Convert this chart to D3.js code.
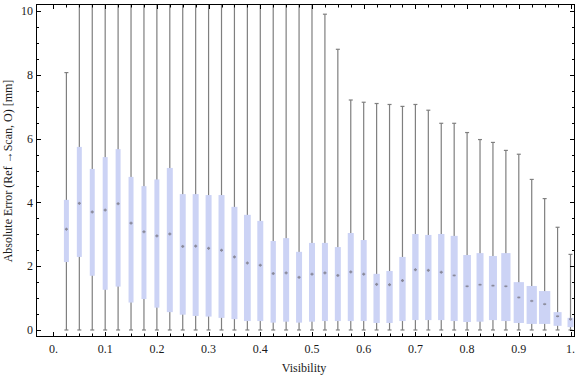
<!DOCTYPE html>
<html>
<head>
<meta charset="utf-8">
<script src="https://cdn.jsdelivr.net/npm/d3@7"></script>
<style>
  body { margin: 0; background: #fff; }
  svg { display: block; }
  text { font-family: "Liberation Serif", "DejaVu Serif", serif; }
</style>
</head>
<body>
<svg id="chart" width="576" height="377"></svg>
<script>
// Visibility bins (box centres)
const visibility = [0.025, 0.05, 0.075, 0.1, 0.125, 0.15, 0.175, 0.2, 0.225, 0.25,
                    0.275, 0.3, 0.325, 0.35, 0.375, 0.4, 0.425, 0.45, 0.475, 0.5,
                    0.525, 0.55, 0.575, 0.6, 0.625, 0.65, 0.675, 0.7, 0.725, 0.75,
                    0.775, 0.8, 0.825, 0.85, 0.875, 0.9, 0.925, 0.95, 0.975, 1.0];

// Box statistics (mm)
const maxVal = [8.07, 11.5, 11.5, 11.5, 11.5, 11.5, 11.5, 11.5, 11.5, 11.5,
                11.5, 11.5, 11.5, 11.5, 11.5, 11.5, 11.5, 11.5, 11.5, 11.5,
                9.9, 8.8, 7.21, 7.14, 7.1, 7.07, 7.01, 7.07, 6.89, 6.48,
                6.48, 6.19, 5.97, 5.88, 5.63, 5.51, 4.72, 4.12, 3.22, 2.37];
const q3 = [4.08, 5.74, 5.05, 5.42, 5.67, 4.80, 4.51, 4.72, 5.08, 4.26,
            4.26, 4.23, 4.23, 3.86, 3.61, 3.42, 2.79, 2.88, 2.45, 2.73,
            2.73, 2.60, 3.04, 2.82, 1.76, 1.85, 2.29, 3.01, 2.98, 3.01,
            2.95, 2.35, 2.41, 2.32, 2.41, 1.50, 1.38, 1.22, 0.56, 0.38];
const median = [3.16, 3.97, 3.70, 3.76, 3.96, 3.35, 3.08, 2.95, 3.01, 2.62,
                2.63, 2.56, 2.50, 2.29, 2.10, 2.03, 1.77, 1.79, 1.65, 1.75,
                1.79, 1.71, 1.82, 1.75, 1.43, 1.42, 1.55, 1.89, 1.87, 1.81,
                1.71, 1.37, 1.42, 1.39, 1.37, 1.02, 0.91, 0.81, 0.43, 0.34];
const q1 = [2.13, 2.29, 1.70, 1.26, 1.36, 0.86, 0.97, 0.70, 0.56, 0.48,
            0.44, 0.42, 0.38, 0.34, 0.28, 0.28, 0.23, 0.26, 0.23, 0.26,
            0.28, 0.28, 0.28, 0.28, 0.22, 0.22, 0.28, 0.31, 0.31, 0.31,
            0.28, 0.25, 0.26, 0.31, 0.28, 0.22, 0.19, 0.19, 0.13, 0.09];
const minVal = [0, 0, 0, 0, 0, 0, 0, 0, 0, 0,
                0, 0, 0, 0, 0, 0, 0, 0, 0, 0,
                0, 0, 0, 0, 0, 0, 0, 0, 0, 0,
                0, 0, 0, 0, 0, 0, 0, 0, 0, 0];
// Relative sample weight per bin (drives box width)
const weight = [0.44, 0.44, 0.44, 0.44, 0.44, 0.44, 0.44, 0.44, 0.53, 0.53,
                0.53, 0.53, 0.53, 0.53, 0.60, 0.53, 0.47, 0.53, 0.53, 0.53,
                0.53, 0.53, 0.53, 0.53, 0.56, 0.56, 0.56, 0.56, 0.56, 0.56,
                0.62, 0.68, 0.62, 0.71, 0.82, 0.91, 0.91, 1.0, 0.71, 0.53];

const xTicks = [0, 0.1, 0.2, 0.3, 0.4, 0.5, 0.6, 0.7, 0.8, 0.9, 1.0];
const yTicks = [0, 2, 4, 6, 8, 10];

const svg = d3.select('#chart');
const plot = { left: 36, right: 575, top: 4, bottom: 337 };

const x = d3.scaleLinear().domain([-0.0338, 1.0087]).range([plot.left, plot.right]);
const y = d3.scaleLinear().domain([-0.22, 10.22]).range([plot.bottom, plot.top]);
const w = d3.scaleLinear().domain([0, 1]).range([0, 11.3]);

const boxes = visibility.map((v, i) => ({
    v, min: minVal[i], q1: q1[i], med: median[i], q3: q3[i], max: maxVal[i], wt: weight[i]
}));

svg.append('clipPath').attr('id', 'clip')
    .append('rect')
    .attr('x', plot.left).attr('y', plot.top)
    .attr('width', plot.right - plot.left).attr('height', plot.bottom - plot.top);

const g = svg.append('g').attr('clip-path', 'url(#clip)');
const grey = '#7f7f7f';

// Whiskers
g.append('g').selectAll('line')
    .data(boxes)
    .enter().append('line')
    .attr('x1', d => x(d.v)).attr('x2', d => x(d.v))
    .attr('y1', d => y(d.min)).attr('y2', d => y(d.max))
    .attr('stroke', grey)
    .attr('stroke-width', 1.2);

// Caps
['min', 'max'].forEach(k => {
    g.append('g').selectAll('line')
        .data(boxes)
        .enter().append('line')
        .attr('x1', d => x(d.v) - 2).attr('x2', d => x(d.v) + 2)
        .attr('y1', d => y(d[k])).attr('y2', d => y(d[k]))
        .attr('stroke', grey)
        .attr('stroke-width', 1.2);
});

// Boxes
g.append('g').selectAll('rect')
    .data(boxes)
    .enter().append('rect')
    .attr('x', d => x(d.v) - w(d.wt) / 2)
    .attr('width', d => w(d.wt))
    .attr('y', d => y(d.q3))
    .attr('height', d => y(d.q1) - y(d.q3))
    .attr('fill', '#ccd3f5');

// Median markers
const med = g.append('g').selectAll('g')
    .data(boxes)
    .enter().append('g')
    .attr('transform', d => `translate(${x(d.v)},${y(d.med)})`);
med.append('rect').attr('x', -1.5).attr('y', -0.75).attr('width', 3).attr('height', 1.5).attr('fill', '#8a8a9a');
med.append('rect').attr('x', -0.6).attr('y', -1.5).attr('width', 1.2).attr('height', 3)
    .attr('fill', '#8a8a9a').attr('opacity', d => d.wt > 0.6 ? 0.3 : 1);

// Frame
svg.append('rect')
    .attr('x', plot.left + 0.5).attr('y', plot.top + 0.5)
    .attr('width', plot.right - plot.left - 1).attr('height', plot.bottom - plot.top - 1)
    .attr('fill', 'none').attr('stroke', '#000').attr('stroke-width', 1);

// Ticks (inward, on all four sides)
const ticks = svg.append('g').attr('stroke', '#000').attr('stroke-width', 1);
const xMinor = d3.range(0, 41).map(i => i * 0.025);
xMinor.forEach(t => {
    const major = Math.abs(t * 10 - Math.round(t * 10)) < 1e-6;
    const len = major ? 5 : 3.5;
    const px = Math.round(x(t)) + 0.5;
    ticks.append('line').attr('x1', px).attr('x2', px).attr('y1', plot.bottom).attr('y2', plot.bottom - len);
    ticks.append('line').attr('x1', px).attr('x2', px).attr('y1', plot.top).attr('y2', plot.top + len);
});
const yMinor = d3.range(0, 21).map(i => i * 0.5);
yMinor.forEach(t => {
    const major = t % 2 === 0;
    const len = major ? 5 : 3;
    const py = Math.round(y(t)) + 0.5;
    ticks.append('line').attr('x1', plot.left).attr('x2', plot.left + len).attr('y1', py).attr('y2', py);
    ticks.append('line').attr('x1', plot.right).attr('x2', plot.right - len).attr('y1', py).attr('y2', py);
});

// Tick labels
svg.append('g').selectAll('text')
    .data(xTicks)
    .enter().append('text')
    .attr('x', d => x(d))
    .attr('y', 353)
    .attr('text-anchor', 'middle')
    .attr('font-size', '12px')
    .attr('fill', '#1a1a1a')
    .text(d => d === 0 ? '0.' : d === 1 ? '1.' : d3.format('.1f')(d));

svg.append('g').selectAll('text')
    .data(yTicks)
    .enter().append('text')
    .attr('x', 33)
    .attr('y', d => y(d))
    .attr('dy', '0.35em')
    .attr('text-anchor', 'end')
    .attr('font-size', '12px')
    .attr('fill', '#1a1a1a')
    .text(d => d);

// Axis titles
svg.append('text')
    .attr('x', 304).attr('y', 372)
    .attr('text-anchor', 'middle')
    .attr('font-size', '12px')
    .attr('fill', '#1a1a1a')
    .text('Visibility');

svg.append('text')
    .attr('transform', 'translate(12,171) rotate(-90)')
    .attr('text-anchor', 'middle')
    .attr('font-size', '12px')
    .attr('fill', '#1a1a1a')
    .text('Absolute Error (Ref \u2192Scan, O) [mm]');
</script>
</body>
</html>
